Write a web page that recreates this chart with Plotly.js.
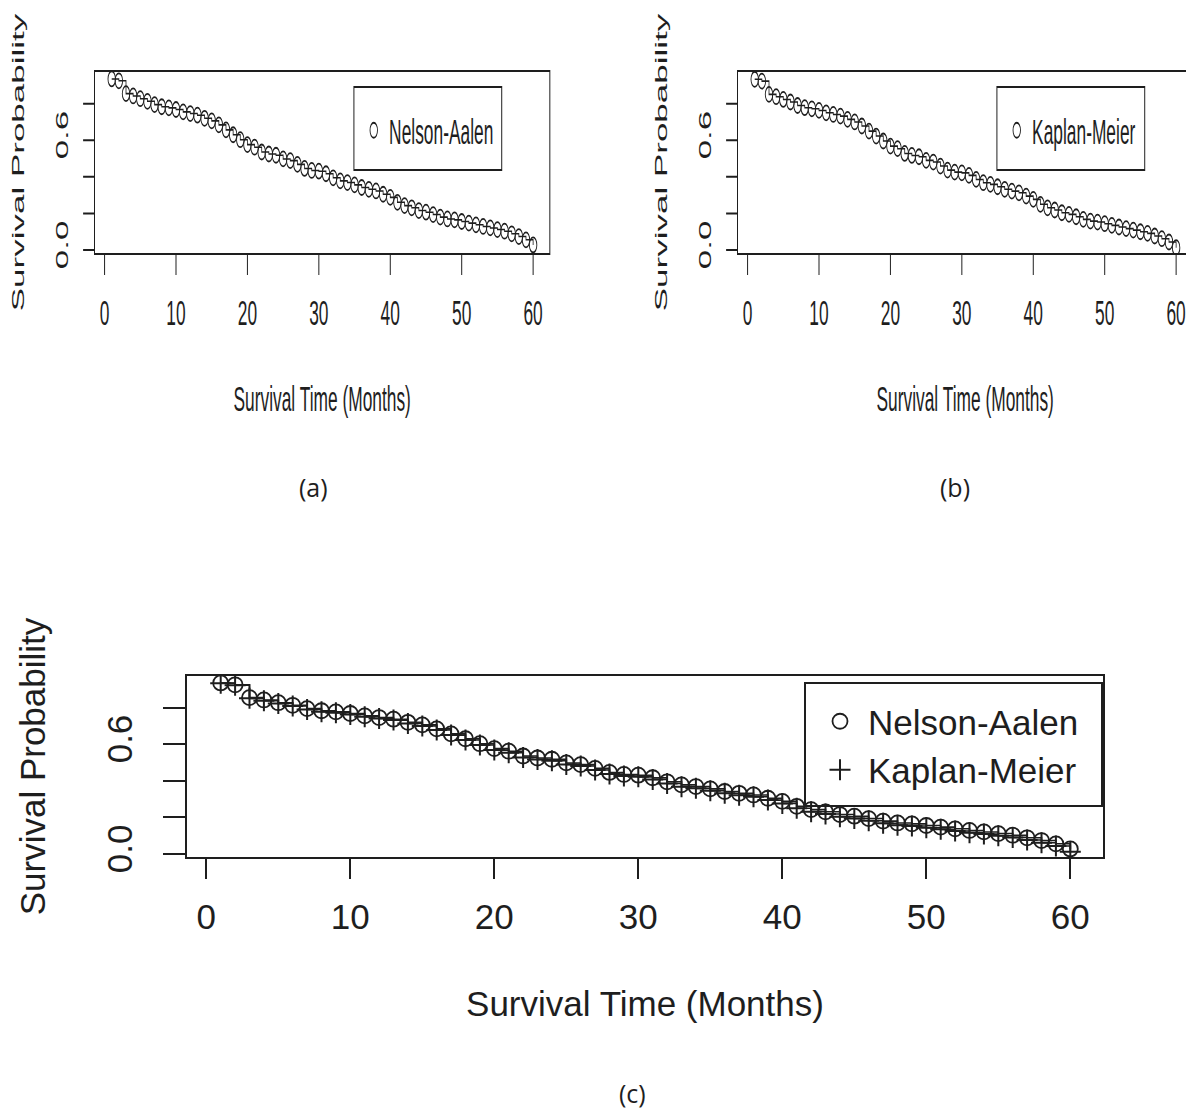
<!DOCTYPE html>
<html>
<head>
<meta charset="utf-8">
<script src="https://cdn.plot.ly/plotly-3.0.1.min.js"></script>
<style>
html, body { margin:0; padding:0; width:1186px; height:1111px; overflow:hidden; background:#fff; }
#pc { position:absolute; left:0; top:0; width:1186px; height:1111px; }
#pa, #pb { position:absolute; top:0; width:1186px; height:470px; transform-origin:0 0; }
#pa { left:0; transform: translate(2.25px,0) scaleX(0.496); }
#pb { left:0; transform: translate(645.25px,0) scaleX(0.496); }
</style>
</head>
<body>
<div id="pc"></div>
<div id="pa"></div>
<div id="pb"></div>
<script>
// ---------------- data ----------------
const months = [1,2,3,4,5,6,7,8,9,10,11,12,13,14,15,16,17,18,19,20,
  21,22,23,24,25,26,27,28,29,30,31,32,33,34,35,36,37,38,39,40,
  41,42,43,44,45,46,47,48,49,50,51,52,53,54,55,56,57,58,59,60];
const kmSurv = [0.933,0.923,0.851,0.838,0.823,0.809,0.790,0.778,0.772,0.763,
  0.750,0.741,0.732,0.714,0.700,0.678,0.650,0.623,0.596,0.568,
  0.554,0.528,0.517,0.510,0.490,0.481,0.459,0.437,0.426,0.422,
  0.408,0.386,0.368,0.359,0.346,0.332,0.322,0.313,0.295,0.277,
  0.250,0.231,0.219,0.204,0.195,0.182,0.168,0.158,0.153,0.144,
  0.135,0.126,0.117,0.109,0.100,0.091,0.077,0.062,0.044,0.013];
const naSurv = [0.935,0.925,0.855,0.842,0.827,0.813,0.795,0.783,0.777,0.768,
  0.755,0.746,0.737,0.720,0.706,0.684,0.657,0.630,0.603,0.576,
  0.562,0.536,0.525,0.518,0.498,0.489,0.468,0.446,0.435,0.431,
  0.417,0.395,0.378,0.369,0.356,0.342,0.332,0.323,0.305,0.288,
  0.261,0.243,0.231,0.216,0.207,0.194,0.180,0.170,0.165,0.156,
  0.147,0.138,0.129,0.121,0.112,0.103,0.089,0.074,0.056,0.028];
const seriesNames = ['Nelson-Aalen', 'Kaplan-Meier'];
const xTickVals = [0,10,20,30,40,50,60];
const yTickVals = [0,0.2,0.4,0.6,0.8];
const yTickText = ['0.0','','','0.6',''];
const xTitle = 'Survival Time (Months)';
const yTitle = 'Survival Probability';
const panelLabels = ['(a)','(b)','(c)'];

// ---------------- style ----------------
const FONT = 'Liberation Sans, Arial, Helvetica, sans-serif';
const INK = '#1e1e1e';
const W = 1186, BOX_L = 187, BOX_R = 1103;
const PW = BOX_R - BOX_L;

function axes() {
  return {
    xaxis: {
      range: [-1.34, 62.27], tickvals: xTickVals, ticks: 'outside', ticklen: 20, tickwidth: 2,
      tickcolor: INK, showline: true, linewidth: 2, linecolor: INK, mirror: true,
      showgrid: false, zeroline: false, automargin: false, ticklabelstandoff: 8,
      tickfont: {family: FONT, size: 35, color: INK},
      title: {text: xTitle, font: {family: FONT, size: 35, color: INK}, standoff: 56}
    },
    yaxis: {
      range: [-0.016, 0.973], tickvals: yTickVals, ticktext: yTickText, tickangle: -90,
      ticks: 'outside', ticklen: 22, tickwidth: 2, tickcolor: INK,
      showline: true, linewidth: 2, linecolor: INK, mirror: true,
      showgrid: false, zeroline: false, automargin: false, ticklabelstandoff: 17,
      tickfont: {family: FONT, size: 35, color: INK},
      title: {text: yTitle, font: {family: FONT, size: 35, color: INK}, standoff: 44}
    }
  };
}

const circleMarker = {symbol: 'circle-open', size: 15, color: INK, line: {width: 1.8, color: INK}};
const plusMarker = {symbol: 'cross-thin-open', size: 15, color: INK, line: {width: 2, color: INK}};

function stepLine(y) {
  return {x: months, y: y, type: 'scatter', mode: 'lines', showlegend: false, hoverinfo: 'skip',
    line: {shape: 'hv', color: INK, width: 1.6}};
}
function points(y, name, marker) {
  return {x: months, y: y, name: name, type: 'scatter', mode: 'markers', marker: marker};
}

const cfg = {displayModeBar: false, staticPlot: true};

// ---------- panel (c): full page ----------
const TOPC = 676, BOTC = 857, HC = 1111;
const pxX = px => (px - BOX_L) / PW;
const pyC = py => (BOTC - py) / (BOTC - TOPC);
const layoutC = Object.assign({
  width: W, height: HC, margin: {l: BOX_L, r: W - BOX_R, t: TOPC, b: HC - BOTC, pad: 0},
  paper_bgcolor: 'rgba(0,0,0,0)', plot_bgcolor: 'rgba(0,0,0,0)', showlegend: true,
  legend: {x: pxX(812), y: pyC(692), xanchor: 'left', yanchor: 'top', bgcolor: 'rgba(0,0,0,0)',
    borderwidth: 0, font: {family: FONT, size: 35, color: INK}, itemwidth: 46, tracegroupgap: 0},
  shapes: [{type: 'rect', xref: 'paper', yref: 'paper', x0: pxX(805), x1: pxX(1102), y0: pyC(806), y1: pyC(683),
    line: {color: INK, width: 2}, fillcolor: 'rgba(0,0,0,0)'}],
  annotations: [
    {text: panelLabels[0], x: pxX(313), y: pyC(487)},
    {text: panelLabels[1], x: pxX(955), y: pyC(487)},
    {text: panelLabels[2], x: pxX(632), y: pyC(1093)}
  ].map(a => Object.assign(a, {xref: 'paper', yref: 'paper', showarrow: false, xanchor: 'center', yanchor: 'middle',
    font: {family: 'Open Sans, Noto Sans, sans-serif', size: 25, color: INK}}))
}, axes());
Plotly.newPlot('pc', [stepLine(naSurv), stepLine(kmSurv),
  points(naSurv, seriesNames[0], circleMarker), points(kmSurv, seriesNames[1], plusMarker)], layoutC, cfg);

// ---------- panels (a), (b): same plot, horizontally compressed ----------
const TOPA = 72, BOTA = 253, HA = 470;
const pyA = py => (BOTA - py) / (BOTA - TOPA);
function layoutTop() {
  return Object.assign({
    width: W, height: HA, margin: {l: BOX_L, r: W - BOX_R, t: TOPA, b: HA - BOTA, pad: 0},
    paper_bgcolor: 'rgba(0,0,0,0)', plot_bgcolor: 'rgba(0,0,0,0)', showlegend: true,
    legend: {x: pxX(718), y: pyA(101), xanchor: 'left', yanchor: 'top', bgcolor: 'rgba(0,0,0,0)',
      borderwidth: 0, font: {family: FONT, size: 35, color: INK}, itemwidth: 52},
    shapes: [{type: 'rect', xref: 'paper', yref: 'paper', x0: pxX(709), x1: pxX(1007), y0: pyA(170), y1: pyA(87),
      line: {color: INK, width: 2}, fillcolor: 'rgba(0,0,0,0)'}]
  }, axes());
}
Plotly.newPlot('pa', [stepLine(naSurv), points(naSurv, seriesNames[0], circleMarker)], layoutTop(), cfg);
Plotly.newPlot('pb', [stepLine(kmSurv), points(kmSurv, seriesNames[1], circleMarker)], layoutTop(), cfg);
</script>
</body>
</html>
